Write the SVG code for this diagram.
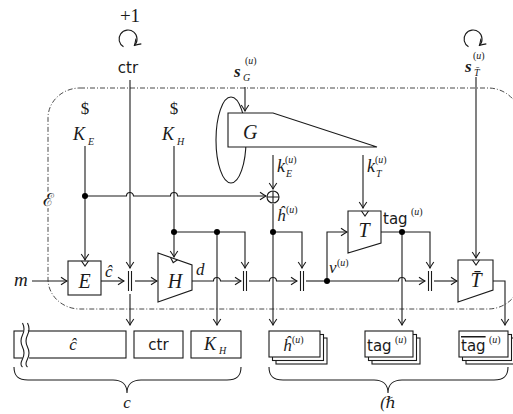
<svg xmlns="http://www.w3.org/2000/svg" width="513" height="414" viewBox="0 0 513 414">
<defs>
<marker id="ar" viewBox="-8 -5 9 10" markerWidth="9" markerHeight="10" refX="0" refY="0" orient="auto" markerUnits="userSpaceOnUse">
<path d="M-6,-3.8 Q-2,-1 0,0 Q-2,1 -6,3.8" fill="none" stroke="#1a1a1a" stroke-width="1.1"/>
</marker>
<style>
.ln{fill:none;stroke:#1a1a1a;stroke-width:1.1}
.a{marker-end:url(#ar)}
.box{fill:#fff;stroke:#1a1a1a;stroke-width:1.1}
.dot{fill:#000}
.m{font-family:"Liberation Serif","DejaVu Serif",serif;font-style:italic;fill:#1a1a1a}
.r{font-family:"Liberation Serif","DejaVu Serif",serif;fill:#1a1a1a}
.s{font-family:"DejaVu Sans","Liberation Sans",sans-serif;fill:#1a1a1a}
.sup{font-family:"Liberation Serif","DejaVu Serif",serif;font-size:10px;fill:#1a1a1a}
.bnd{fill:none;stroke:#1a1a1a;stroke-width:0.8;stroke-dasharray:5 2 1 2}
</style>
</defs>
<rect width="513" height="414" fill="#fff"/>

<g id="boundary">
<rect class="bnd" x="48" y="88" width="472" height="221" rx="32" ry="30"/>
<text class="r" x="48" y="206" font-size="18" text-anchor="middle" stroke="#fff" stroke-width="4" paint-order="stroke">ℰ</text>
</g>

<g id="G">
<ellipse class="ln" cx="231" cy="140" rx="15" ry="43"/>
<polygon class="box" points="228,113 273,113 377,147 228,147"/>
<text class="m" x="243" y="139" font-size="20">G</text>
</g>

<g id="connectors">
<path class="ln a" d="M32,281 H67"/>
<path class="ln a" d="M85,146 V260"/>
<path class="ln a" d="M85,196 H126.5 A3.5,3.5 0 0 1 133.5,196 H170.5 A3.5,3.5 0 0 1 177.5,196 H266"/>
<path class="ln a" d="M123.5,46.8 A9,9 0 1 1 134.4,45.4"/>
<path class="ln a" d="M130,80 V268"/>
<path class="ln a" d="M130,294 V325"/>
<path class="ln a" d="M101,281 H124"/>
<path class="ln a" d="M135,281 H157"/>
<path class="ln a" d="M174,146 V257"/>
<path class="ln a" d="M174,232 H245 V268"/>
<path class="ln a" d="M217,232 V325"/>
<path class="ln a" d="M192,281 H213.5 A3.5,3.5 0 0 1 220.5,281 H241"/>
<path class="ln a" d="M249,281 H269.5 A3.5,3.5 0 0 1 276.5,281 H297"/>
<path class="ln a" d="M245,87 V111"/>
<path class="ln a" d="M273,155 V189"/>
<path class="ln a" d="M273,204 V325"/>
<path class="ln a" d="M273,232 H302 V268"/>
<path class="ln" d="M306,281 H327"/>
<path class="ln a" d="M327,281 V232 H347"/>
<path class="ln a" d="M327,281 H398.5 A3.5,3.5 0 0 1 405.5,281 H425"/>
<path class="ln a" d="M363,155 V208"/>
<path class="ln a" d="M381,232 H430 V268"/>
<path class="ln a" d="M402,232 V325"/>
<path class="ln a" d="M434,281 H457"/>
<path class="ln a" d="M468.5,46.8 A9,9 0 1 1 479.4,45.4"/>
<path class="ln a" d="M476,77 V258"/>
<path class="ln a" d="M493,281 H505 V325"/>
<circle class="dot" cx="85" cy="196" r="3"/>
<circle class="dot" cx="174" cy="232" r="3"/>
<circle class="dot" cx="217" cy="232" r="3"/>
<circle class="dot" cx="273" cy="232" r="3"/>
<circle class="dot" cx="327" cy="281" r="3"/>
<circle class="dot" cx="402" cy="232" r="3"/>
</g>

<g id="labels">
<text class="r" x="130" y="22" font-size="19" text-anchor="middle">+1</text>
<text class="s" x="128" y="73" font-size="15" text-anchor="middle">ctr</text>
<text class="r" x="85" y="114" font-size="17" text-anchor="middle">$</text>
<text class="m" x="73" y="140" font-size="18">K</text><text class="m" x="88" y="145" font-size="10">E</text>
<text class="r" x="174" y="114" font-size="17" text-anchor="middle">$</text>
<text class="m" x="162" y="140" font-size="18">K</text><text class="m" x="177" y="145" font-size="10">H</text>
<text class="m" x="234" y="77" font-size="17" font-weight="bold">s</text><text class="m" x="243" y="81" font-size="10">G</text><text class="sup" x="245" y="64">(<tspan font-style="italic">u</tspan>)</text>
<text class="m" x="465" y="72" font-size="17" font-weight="bold">s</text><text class="m" x="474" y="76" font-size="10">T̄</text><text class="sup" x="473" y="59">(<tspan font-style="italic">u</tspan>)</text>
<text class="m" x="277" y="172" font-size="18">k</text><text class="m" x="286" y="177" font-size="10">E</text><text class="sup" x="285" y="163">(<tspan font-style="italic">u</tspan>)</text>
<text class="m" x="367" y="172" font-size="18">k</text><text class="m" x="376" y="177" font-size="10">T</text><text class="sup" x="375" y="163">(<tspan font-style="italic">u</tspan>)</text>
<text class="m" x="277" y="221" font-size="17">ĥ</text><text class="sup" x="286" y="213">(<tspan font-style="italic">u</tspan>)</text>
<text class="m" x="329" y="273" font-size="17">v</text><text class="sup" x="337" y="266">(<tspan font-style="italic">u</tspan>)</text>
<text class="s" x="383" y="224" font-size="15">tag</text><text class="sup" x="411" y="215">(<tspan font-style="italic">u</tspan>)</text>
<text class="m" x="105" y="277" font-size="17">ĉ</text>
<text class="m" x="196" y="275" font-size="17">d</text>
<text class="m" x="14" y="286" font-size="19">m</text>
</g>

<g id="concat">
<path class="ln" d="M128.5,271 V291 M131.5,271 V291"/>
<path class="ln" d="M243.5,271 V291 M246.5,271 V291"/>
<path class="ln" d="M300.5,271 V291 M303.5,271 V291"/>
<path class="ln" d="M428.5,271 V291 M431.5,271 V291"/>
</g>

<g id="xor">
<circle class="ln" cx="273" cy="197" r="6"/>
<path class="ln" d="M267,197 H279 M273,191 V203"/>
</g>

<g id="E">
<rect class="box" x="68" y="261" width="33" height="34"/>
<path class="ln" d="M81.5,261 L85,266 L88.5,261"/>
<text class="m" x="84.5" y="288" font-size="20" text-anchor="middle">E</text>
</g>

<g id="H">
<polygon class="box" points="158,253 192,265 192,290 158,302"/>
<path class="ln" d="M170.5,257.4 L173.2,262.6 L177.5,259.8"/>
<text class="m" x="175" y="288" font-size="20" text-anchor="middle">H</text>
</g>

<g id="T">
<polygon class="box" points="348,211 381,211 381,243 348,253"/>
<path class="ln" d="M361.5,211 L365,216 L368.5,211"/>
<text class="m" x="364" y="237" font-size="20" text-anchor="middle">T</text>
</g>

<g id="Tbar">
<polygon class="box" points="458,260 493,260 493,290 458,302"/>
<path class="ln" d="M472.5,260 L476,265 L479.5,260"/>
<text class="m" x="476" y="287" font-size="20" text-anchor="middle">T̄</text>
</g>

<g id="c-hat-box">
<rect class="box" x="14" y="331" width="112" height="27"/>
<path d="M22,323 Q25,329 22,335 T22,347 T22,359 T22,367 L28,367 Q31,361 28,355 T28,343 T28,331 T28,323 Z" fill="#fff" stroke="none"/>
<path class="ln" d="M22.5,323 Q25.5,329 22.5,335 T22.5,347 T22.5,359 T22.5,367"/>
<path class="ln" d="M27.5,323 Q30.5,329 27.5,335 T27.5,347 T27.5,359 T27.5,367"/>
<text class="m" x="73" y="350" font-size="17" text-anchor="middle">ĉ</text>
</g>
<g id="ctr-box">
<rect class="box" x="134" y="331" width="49" height="27"/>
<text class="s" x="158.5" y="350" font-size="15" text-anchor="middle">ctr</text>
</g>
<g id="KH-box">
<rect class="box" x="191" y="331" width="50" height="27"/>
<text class="m" x="204" y="350" font-size="18">K</text><text class="m" x="219" y="354" font-size="10">H</text>
</g>

<g id="h-stack">
<rect class="box" x="276" y="338" width="51" height="26"/>
<rect class="box" x="272.5" y="334.5" width="51" height="26"/>
<rect class="box" x="269" y="331" width="51" height="26"/>
<text class="m" x="283" y="351" font-size="17">ĥ</text><text class="sup" x="292" y="343">(<tspan font-style="italic">u</tspan>)</text>
</g>
<g id="tag-stack">
<rect class="box" x="372" y="338" width="48" height="26"/>
<rect class="box" x="368.5" y="334.5" width="48" height="26"/>
<rect class="box" x="365" y="331" width="48" height="26"/>
<text class="s" x="367" y="351" font-size="15">tag</text><text class="sup" x="395" y="343">(<tspan font-style="italic">u</tspan>)</text>
</g>
<g id="tagbar-stack">
<rect class="box" x="466" y="338" width="49" height="26"/>
<rect class="box" x="462.5" y="334.5" width="49" height="26"/>
<rect class="box" x="459" y="331" width="49" height="26"/>
<text class="s" x="461" y="351" font-size="15" style="text-decoration:overline">tag</text><text class="sup" x="489" y="343">(<tspan font-style="italic">u</tspan>)</text>
</g>

<g id="braces">
<path class="ln" d="M14,367 C14,376 18,380 28,380 L113,380 C122,380 127,385 127,393 C127,385 132,380 141,380 L227,380 C237,380 241,376 241,367"/>
<text class="m" x="127" y="408" font-size="17" text-anchor="middle">c</text>
<path class="ln" d="M269,367 C269,376 273,380 283,380 L374,380 C383,380 388,385 388,393 C388,385 393,380 402,380 L494,380 C504,380 508,376 508,367"/>
<text class="m" x="388" y="408" font-size="16" text-anchor="middle">(ℏ</text>
</g>
</svg>
